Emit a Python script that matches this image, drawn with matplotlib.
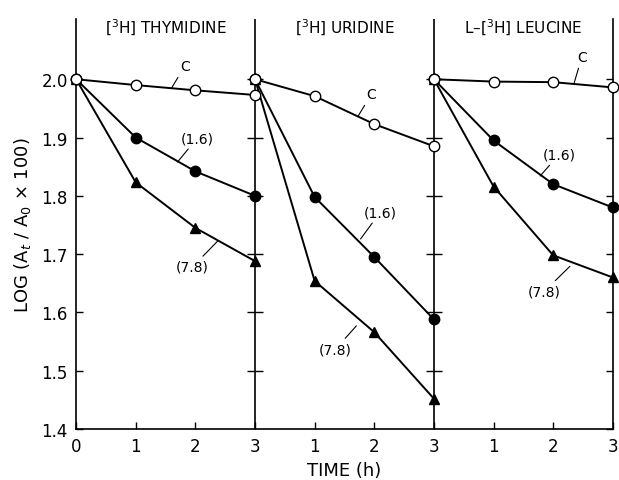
import matplotlib
matplotlib.use("Agg")
import matplotlib.pyplot as plt
import numpy as np

hours = [0, 1, 2, 3]
panels = ["[$^3$H] THYMIDINE", "[$^3$H] URIDINE", "L\u2013[$^3$H] LEUCINE"]

thy_c = [2.0, 1.990, 1.981, 1.973]
thy_16 = [2.0, 1.900, 1.842, 1.800]
thy_78 = [2.0, 1.823, 1.745, 1.688]

uri_c = [2.0, 1.971, 1.923, 1.885]
uri_16 = [2.0, 1.798, 1.695, 1.588]
uri_78 = [2.0, 1.654, 1.566, 1.452]

leu_c = [2.0, 1.996, 1.995, 1.986]
leu_16 = [2.0, 1.895, 1.820, 1.780]
leu_78 = [2.0, 1.816, 1.698, 1.660]

xticklabels = ["0", "1", "2", "3", "1", "2", "3", "1", "2", "3"]
yticks = [1.4, 1.5, 1.6, 1.7, 1.8, 1.9, 2.0]

fig = plt.figure(figsize=(6.19, 4.81), dpi=100)
ax = fig.add_axes([0.123, 0.106, 0.867, 0.852])

series = [(thy_c, thy_16, thy_78), (uri_c, uri_16, uri_78), (leu_c, leu_16, leu_78)]
for i, (c, s16, s78) in enumerate(series):
    x = np.array(hours) + 3 * i
    ax.plot(x, s78, '-', color='black', lw=1.4, marker='^', ms=7.5, mfc='black', zorder=3, clip_on=False)
    ax.plot(x, s16, '-', color='black', lw=1.4, marker='o', ms=7.5, mfc='black', zorder=3, clip_on=False)
    ax.plot(x, c, '-', color='black', lw=1.4, marker='o', ms=7.5, mfc='white', mec='black', mew=1.0, zorder=4, clip_on=False)

# panel separators
for xv in [3, 6]:
    ax.axvline(xv, color='black', lw=1.2, zorder=2)
    ax.plot([xv] * len(yticks[1:]), yticks[1:], linestyle='none', marker='_', ms=12, mew=1.0, color='black', zorder=2)

ax.set_xlim(0, 9)
ax.set_ylim(1.4, 2.103)
ax.spines['top'].set_visible(False)
for s in ['left', 'bottom', 'right']:
    ax.spines[s].set_linewidth(1.2)
ax.set_xticks(range(10))
ax.set_xticklabels(xticklabels, fontsize=12)
ax.set_yticks(yticks)
ax.set_yticklabels([f"{v:.1f}" for v in yticks], fontsize=12)
ax.tick_params(direction='in', length=5, width=1.0, right=True, labelright=False, pad=6)

for i, t in enumerate(panels):
    ax.text(1.5 + 3 * i, 2.09, t, ha='center', va='center', fontsize=11)

def lab(text, xy_text, xy_line):
    ax.annotate(text, xy=xy_line, xytext=xy_text, ha='center', va='center', fontsize=10,
                arrowprops=dict(arrowstyle='-', lw=0.8, color='black', shrinkA=1, shrinkB=0))

lab("C", (1.82, 2.022), (1.6, 1.985))
lab("(1.6)", (2.03, 1.899), (1.7, 1.858))
lab("(7.8)", (1.95, 1.678), (2.37, 1.722))
lab("C", (4.95, 1.974), (4.73, 1.937))
lab("(1.6)", (5.1, 1.772), (4.77, 1.726))
lab("(7.8)", (4.35, 1.537), (4.7, 1.577))
lab("C", (8.48, 2.038), (8.35, 1.993))
lab("(1.6)", (8.1, 1.871), (7.78, 1.834))
lab("(7.8)", (7.85, 1.636), (8.28, 1.679))

ax.set_xlabel("TIME (h)", fontsize=13, labelpad=4)
ax.set_ylabel("LOG (A$_t$ / A$_0$ × 100)", fontsize=13, labelpad=6)

fig.savefig("out.png", dpi=100)
